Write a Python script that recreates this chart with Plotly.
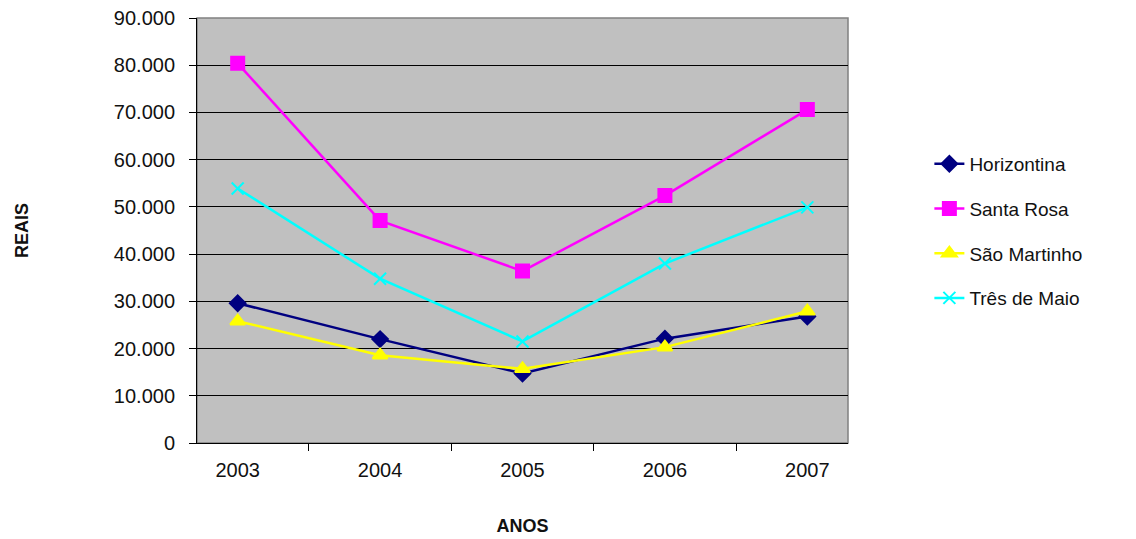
import plotly.graph_objects as go

anos = ["2003", "2004", "2005", "2006", "2007"]
horizontina = [29600, 22000, 14700, 22100, 26800]
santa_rosa = [80400, 47100, 36400, 52400, 70600]
sao_martinho = [25800, 18600, 15700, 20300, 27900]
tres_de_maio = [53900, 34800, 21500, 38000, 49900]

fig = go.Figure()
series = [
    ("Horizontina", horizontina, "#000080", "diamond", 12),
    ("Santa Rosa", santa_rosa, "#FF00FF", "square", 13),
    ("São Martinho", sao_martinho, "#FFFF00", "triangle-up", 13),
    ("Três de Maio", tres_de_maio, "#00FFFF", "x-thin-open", 12),
]
for i, (name, vals, col, sym, sz) in enumerate(series):
    fig.add_trace(go.Scatter(
        x=anos, y=vals, name=name, mode="lines+markers",
        line=dict(color=col, width=2.5),
        marker=dict(symbol=sym, size=sz, color=col, line=dict(color=col, width=2)),
        legendgroup=f"g{i}",
    ))

fig.update_layout(
    width=1128, height=531,
    margin=dict(l=189, r=288, t=10, b=96, autoexpand=False),
    paper_bgcolor="white", plot_bgcolor="#C0C0C0",
    separators=",.",
    font=dict(family="Liberation Sans, Arial, sans-serif", size=19, color="#111111"),
    showlegend=True,
    legend=dict(x=1.125, y=0.499, xanchor="left", yanchor="middle",
                font=dict(size=19), tracegroupgap=17, bgcolor="rgba(0,0,0,0)"),
    xaxis=dict(
        type="category", tickson="boundaries", ticks="outside", ticklen=7,
        tickcolor="black", showline=True, linecolor="black", linewidth=1,
        showgrid=False, tickfont=dict(size=20), ticklabelstandoff=9,
        automargin=False,
        title=dict(text="<b>ANOS</b>", font=dict(size=18), standoff=39),
    ),
    yaxis=dict(
        range=[0, 90000], dtick=10000, tickformat=",d",
        ticks="outside", ticklen=7, tickcolor="black",
        showline=True, linecolor="black", linewidth=1,
        showgrid=True, gridcolor="black", gridwidth=1,
        zeroline=False, tickfont=dict(size=20), ticklabelstandoff=10,
        ticklabeloverflow="allow", automargin=False,
        title=dict(text="<b>REAIS</b>", font=dict(size=18), standoff=80),
    ),
)
fig.add_shape(type="rect", xref="paper", yref="paper", x0=0, y0=0, x1=1, y1=1,
              line=dict(color="#808080", width=1.5), layer="below")
fig.write_html("out.html")
